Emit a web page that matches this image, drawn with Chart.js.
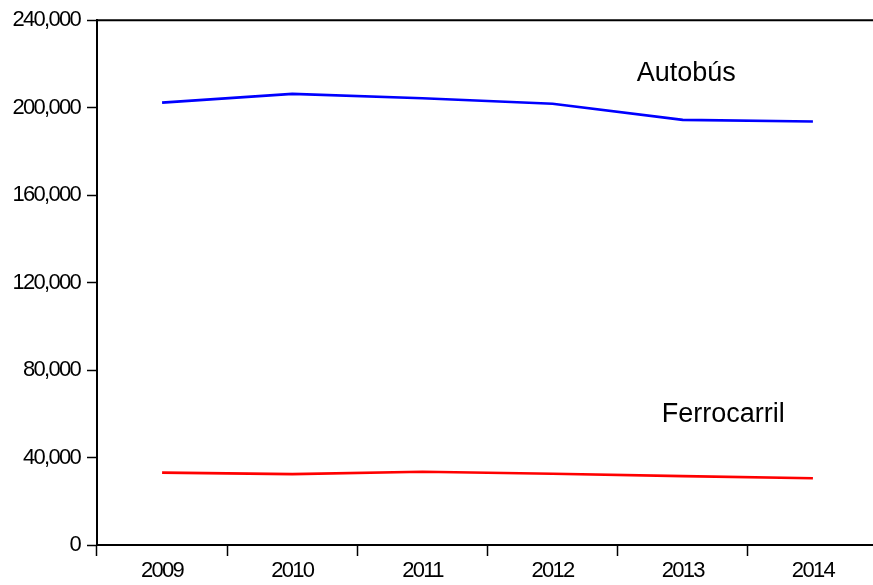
<!DOCTYPE html>
<html>
<head>
<meta charset="utf-8">
<script src="https://cdn.jsdelivr.net/npm/chart.js@4"></script>
<style>
html,body{margin:0;padding:0;background:#fff;overflow:hidden;}
canvas{display:block;}
</style>
</head>
<body>
<canvas id="c" width="880" height="585"></canvas>
<script>
const years = ['2009','2010','2011','2012','2013','2014'];
const autobus = [202300, 206300, 204300, 201800, 194400, 193700];
const ferrocarril = [33100, 32400, 33500, 32600, 31500, 30500];
const yTicks = [0, 40000, 80000, 120000, 160000, 200000, 240000];
const seriesNames = ['Autobús', 'Ferrocarril'];

const FONT = "'Liberation Sans', Arial, sans-serif";
const TICK_SPACING = '-1.7px';

const styleText = {
  id: 'styleText',
  beforeLayout(chart) { chart.ctx.letterSpacing = TICK_SPACING; },
  beforeDraw(chart) { chart.ctx.letterSpacing = TICK_SPACING; },
  afterDraw(chart) {
    const ctx = chart.ctx, a = chart.chartArea;
    const x = chart.scales.x, y = chart.scales.y;
    ctx.save();
    // top frame line
    ctx.strokeStyle = '#000';
    ctx.lineWidth = 2;
    ctx.beginPath();
    ctx.moveTo(a.left - 1, a.top);
    ctx.lineTo(chart.width, a.top);
    ctx.stroke();
    // series labels
    ctx.letterSpacing = '0px';
    ctx.fillStyle = '#000';
    ctx.font = '27px ' + FONT;
    ctx.textAlign = 'left';
    ctx.textBaseline = 'alphabetic';
    ctx.fillText(seriesNames[0], x.getPixelForValue(4) - 46, y.getPixelForValue(212200));
    ctx.fillText(seriesNames[1], x.getPixelForValue(4) - 21, y.getPixelForValue(56200));
    ctx.restore();
  }
};

new Chart(document.getElementById('c'), {
  type: 'line',
  data: {
    labels: years,
    datasets: [
      { label: seriesNames[0], data: autobus, borderColor: '#0000FF', borderWidth: 2.6, pointRadius: 0, tension: 0, fill: false },
      { label: seriesNames[1], data: ferrocarril, borderColor: '#FF0000', borderWidth: 2.6, pointRadius: 0, tension: 0, fill: false }
    ]
  },
  options: {
    responsive: false,
    animation: false,
    devicePixelRatio: 1,
    layout: { padding: { top: 20, right: 2, bottom: 0, left: 0 } },
    plugins: { legend: { display: false }, tooltip: { enabled: false } },
    scales: {
      x: {
        type: 'category',
        offset: true,
        grid: { offset: true, drawOnChartArea: false, drawTicks: true, tickLength: 11, tickColor: '#000', tickWidth: 1.5 },
        border: { display: true, color: '#000', width: 2 },
        ticks: { color: '#000', font: { family: FONT, size: 22 }, padding: 2, maxRotation: 0, autoSkip: false },
        afterFit(s) { s.height = 40; }
      },
      y: {
        min: 0, max: 240000,
        afterBuildTicks(s) { s.ticks = yTicks.map(v => ({ value: v })); },
        grid: { drawOnChartArea: false, drawTicks: true, tickLength: 10, tickColor: '#000', tickWidth: 1.5 },
        border: { display: true, color: '#000', width: 2 },
        ticks: {
          color: '#000', font: { family: FONT, size: 22 }, padding: 7,
          callback: v => v.toLocaleString('en-US')
        },
        afterFit(s) { s.width = 97; }
      }
    }
  },
  plugins: [styleText]
});
</script>
</body>
</html>
